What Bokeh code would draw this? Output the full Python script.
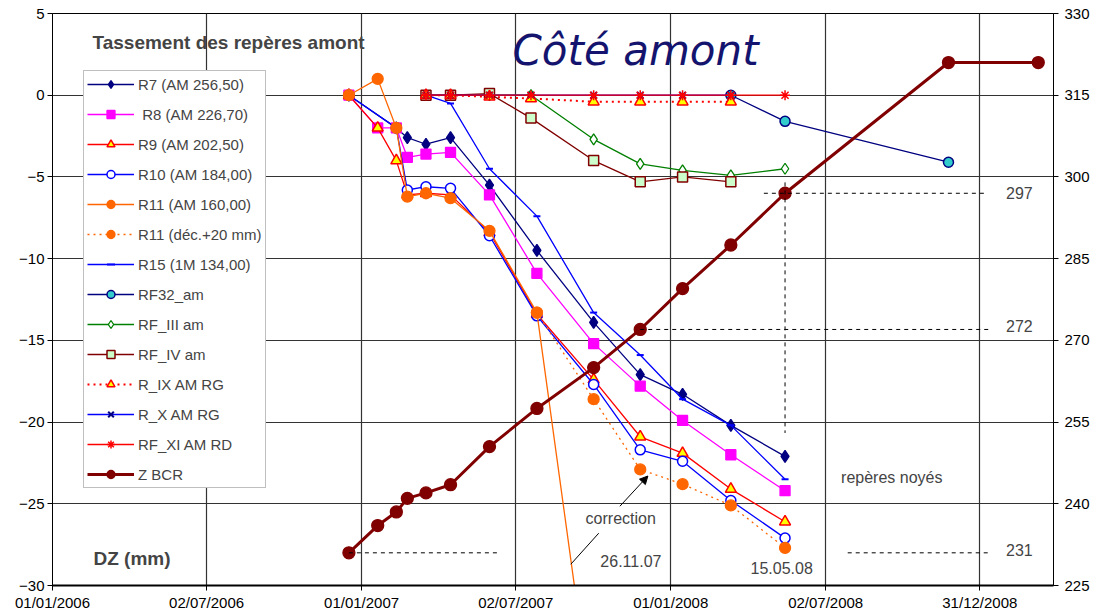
import pandas as pd
from bokeh.plotting import figure
from bokeh.models import (Range1d, LinearAxis, FixedTicker, DatetimeTickFormatter,
                          Label, Arrow, NormalHead)
from bokeh.embed import file_html
from bokeh.resources import INLINE

# ---------------- data ----------------
dates_r = ["2006-12-17", "2007-01-20", "2007-02-11", "2007-02-24", "2007-03-18",
           "2007-04-16", "2007-06-01", "2007-07-27", "2007-10-02", "2007-11-26",
           "2008-01-15", "2008-03-12", "2008-05-15"]
dates_r7 = ["2006-12-17", "2007-02-11", "2007-02-24", "2007-03-18",
            "2007-04-16", "2007-06-01", "2007-07-27", "2007-10-02", "2007-11-26",
            "2008-01-15", "2008-03-12", "2008-05-15"]
r7 = [0, -2, -2.6, -3.0, -2.6, -5.5, -9.5, -13.9, -17.1, -18.3, -20.2, -22.1]
r8 = [0, -2, -2, -3.8, -3.6, -3.5, -6.1, -10.9, -15.2, -17.8, -19.9, -22.0, -24.2]
r9 = [0, -2, -4, -6.1, -6.0, -6.1, -8.4, -13.4, -17.4, -20.9, -21.9, -24.1, -26.1]
r10 = [0, -2, -5.8, -5.6, -5.7, -8.6, -13.5, -17.7, -21.7, -22.4, -24.8, -27.1]
r11 = [0, 1, -2, -6.2, -6.0, -6.3, -8.3, -13.3, -38.6, -42.9, -43.8, -45.1, -47.7]
dates_r11c = ["2007-07-27", "2007-10-02", "2007-11-26", "2008-01-15", "2008-03-12", "2008-05-15"]
r11c = [-13.3, -18.6, -22.9, -23.8, -25.1, -27.7]
dates_r15 = ["2007-03-18", "2007-04-16", "2007-06-01", "2007-07-27", "2007-10-02",
             "2007-11-26", "2008-01-15", "2008-03-12", "2008-05-15"]
r15 = [0, -0.5, -4.5, -7.4, -13.3, -15.9, -18.6, -20.2, -23.5]
dates_rf32 = ["2008-03-12", "2008-05-15", "2008-11-24"]
rf32 = [0, -1.6, -4.1]
dates_rf = ["2007-03-18", "2007-04-16", "2007-06-01", "2007-07-20", "2007-10-02",
            "2007-11-26", "2008-01-15", "2008-03-12", "2008-05-15"]
rf3 = [0, 0, 0, 0, -2.7, -4.2, -4.6, -4.9, -4.5]
rf4 = [0, 0, 0.1, -1.4, -4.0, -5.3, -5.0, -5.3]
rix = [0, 0, -0.1, -0.2, -0.4, -0.4, -0.4, -0.4]
rx = [0, 0, 0, 0, 0, 0, 0, 0]
rfxi = [0, 0, 0, 0, 0, 0, 0, 0, 0]
dates_z = dates_r + ["2008-11-24", "2009-03-10"]
zbcr = [231, 236, 238.5, 241, 242, 243.5, 250.5, 257.5, 265, 272, 279.5, 287.5, 297, 321, 321]

# reference (dashed) lines, right-axis units
ref_x0 = ["2006-12-17", "2008-07-28", "2007-11-26", "2008-04-20", "2008-05-15"]
ref_x1 = ["2007-06-10", "2009-01-13", "2009-01-13", "2009-01-09", "2008-05-15"]
ref_y0 = [231, 231, 272, 297, 299]
ref_y1 = [231, 231, 272, 297, 253]
ref_labels = ["231", "272", "297"]

x_ticks = ["2006-01-01", "2006-07-02", "2007-01-01", "2007-07-02", "2008-01-01",
           "2008-07-02", "2008-12-31"]
x_tick_labels = ["01/01/2006", "02/07/2006", "01/01/2007", "02/07/2007", "01/01/2008",
                 "02/07/2008", "31/12/2008"]
y_left_ticks = [-30, -25, -20, -15, -10, -5, 0, 5]
y_right_ticks = [225, 240, 255, 270, 285, 300, 315, 330]

FONT = "Liberation Sans"


def ts(lst):
    return pd.to_datetime(lst)


def ms(d):
    return pd.Timestamp(d).value / 1e6


p = figure(width=1106, height=613, output_backend="svg", toolbar_location=None,
           x_axis_type="datetime",
           x_range=Range1d(ms("2006-01-01"), ms("2009-03-28")),
           y_range=Range1d(-30, 5),
           min_border_left=52, min_border_right=53, min_border_top=13, min_border_bottom=28)
p.extra_y_ranges = {"right": Range1d(225, 330)}
p.background_fill_color = "white"
p.border_fill_color = "white"
p.outline_line_color = "black"
p.outline_line_width = 1

# axes
xt = FixedTicker(ticks=[ms(d) for d in x_ticks])
p.xaxis.ticker = xt
p.xaxis.formatter = DatetimeTickFormatter(days="%d/%m/%Y", months="%d/%m/%Y", years="%d/%m/%Y")
p.xaxis.major_label_overrides = {ms(d): lab for d, lab in zip(x_ticks, x_tick_labels)}
p.xgrid.ticker = xt
yt = FixedTicker(ticks=y_left_ticks)
p.yaxis.ticker = yt
p.ygrid.ticker = yt
right = LinearAxis(y_range_name="right", ticker=FixedTicker(ticks=y_right_ticks))
p.add_layout(right, "right")

for ax in [p.xaxis[0], p.yaxis[0], right]:
    ax.axis_line_color = "black"
    ax.major_tick_line_color = "black"
    ax.minor_tick_line_color = None
    ax.major_tick_in = 0
    ax.major_tick_out = 5
    ax.major_label_text_font = FONT
    ax.major_label_text_font_size = "15px"
    ax.major_label_text_color = "black"
p.xaxis.axis_line_width = 2
p.xaxis.major_tick_out = 5
p.xaxis.major_label_standoff = 3
p.yaxis[0].major_label_standoff = 3
right.major_label_standoff = 6

p.xgrid.grid_line_color = "#333333"
p.ygrid.grid_line_color = "#333333"
p.xgrid.grid_line_width = 1.2
p.ygrid.grid_line_width = 1.2


def series(dates, vals, label, color, marker, size, fill, mline, lw=1.3, dash="solid",
           rng="default", mlw=1.3):
    x = ts(dates)
    p.line(x, vals, line_color=color, line_width=lw, line_dash=dash,
           legend_label=label, y_range_name=rng)
    p.scatter(x, vals, marker=marker, size=size, fill_color=fill, line_color=mline,
              line_width=mlw, legend_label=label, y_range_name=rng)


series(dates_r7, r7, "R7 (AM 256,50)", "#000080", "diamond", 12, "#000080", "#000080")
series(dates_r, r8, " R8 (AM 226,70)", "#FF00FF", "square", 10, "#FF00FF", "#FF00FF")
series(dates_r, r9, "R9 (AM 202,50)", "#FF0000", "triangle", 11, "#FFFF00", "#FF0000", mlw=1.5)
series(dates_r7, r10, "R10 (AM 184,00)", "#0000FF", "circle", 10, "white", "#0000FF", mlw=1.5)
series(dates_r, r11, "R11 (AM 160,00)", "#FF6600", "circle", 11, "#FF6600", "#FF6600")
series(dates_r11c, r11c, "R11 (déc.+20 mm)", "#FF6600", "circle", 11, "#FF6600", "#FF6600",
       dash="2 4")
series(dates_r15, r15, "R15 (1M 134,00)", "#0000FF", "dash", 7, "#0000FF", "#0000FF", mlw=2)
series(dates_rf32, rf32, "RF32_am", "#000080", "circle", 10, "#33CCCC", "#000080", mlw=1.5)
series(dates_rf, rf3, "RF_III am", "#008000", "diamond", 11, "white", "#008000")
series(dates_rf[:8], rf4, "RF_IV am", "#800000", "square", 10, "#CCFFCC", "#800000", mlw=1.5)
series(dates_rf[:8], rix, "R_IX AM RG", "#FF0000", "triangle", 11, "#FFFF00", "#FF0000",
       lw=2, dash="2 4", mlw=1.5)
series(dates_rf[:8], rx, "R_X AM RG", "#0000FF", "x", 9, "#000080", "#000080", mlw=2)
series(dates_rf, rfxi, "RF_XI AM RD", "#FF0000", "asterisk", 10, "#FF0000", "#FF0000", mlw=1.5)
series(dates_z, zbcr, "Z BCR", "#800000", "circle", 12, "#800000", "#800000", lw=3,
       rng="right")

# dashed reference lines
p.segment(ts(ref_x0), ref_y0, ts(ref_x1), ref_y1, line_color="black", line_width=1,
          line_dash="4 4", y_range_name="right")

for lab, yv in zip(ref_labels, ref_y0[1:4]):
    p.add_layout(Label(x=ms("2009-01-31"), y=yv, y_range_name="right", text=lab,
                       text_font=FONT, text_font_size="16px", text_baseline="middle",
                       text_align="left", y_offset=3 if lab != "297" else 0))

# annotations
p.add_layout(Label(x=ms("2007-11-03"), y=-25.9, text="correction", text_font=FONT,
                   text_font_size="16px", text_align="center", text_baseline="middle"))
p.add_layout(Label(x=ms("2007-11-15"), y=-28.5, text="26.11.07", text_font=FONT,
                   text_font_size="16px", text_align="center", text_baseline="middle",
                   background_fill_color="white", padding=5))
p.add_layout(Label(x=ms("2008-05-11"), y=-28.9, text="15.05.08", text_font=FONT,
                   text_font_size="16px", text_align="center", text_baseline="middle",
                   background_fill_color="white", padding=5))
p.add_layout(Label(x=ms("2008-09-18"), y=-23.4, text="repères noyés", text_font=FONT,
                   text_font_size="16px", text_align="center", text_baseline="middle"))

p.add_layout(Arrow(end=NormalHead(size=8, fill_color="black", line_color="black"),
                   x_start=ms("2007-11-02"), y_start=-25.15,
                   x_end=ms("2007-12-05"), y_end=-23.3, line_width=1))
p.segment([ms("2007-10-08")], [-26.8], [ms("2007-09-05")], [-28.7], line_color="black",
          line_width=1)

p.add_layout(Label(x=40, y=543, x_units="screen", y_units="screen",
                   text="Tassement des repères amont", text_font=FONT,
                   text_font_size="19px", text_font_style="bold", text_baseline="middle"))
p.add_layout(Label(x=41, y=27, x_units="screen", y_units="screen", text="DZ (mm)",
                   text_font=FONT, text_font_size="19px", text_font_style="bold",
                   text_baseline="middle"))
p.add_layout(Label(x=460, y=535, x_units="screen", y_units="screen", text="Côté amont",
                   text_font="DejaVu Sans", text_font_size="42px", text_font_style="italic",
                   text_color="#14146e", text_baseline="alphabetic"))

# legend
lg = p.legend[0]
lg.location = (31, 97)
lg.label_text_font = FONT
lg.label_text_font_size = "15px"
lg.glyph_width = 47
lg.glyph_height = 20
lg.label_height = 20
lg.spacing = 10
lg.padding = 3
lg.margin = 0
lg.label_standoff = 4
lg.border_line_color = "#808080"
lg.border_line_width = 1
lg.background_fill_color = "white"
lg.background_fill_alpha = 1

open("out.html", "w").write(file_html(p, INLINE))
